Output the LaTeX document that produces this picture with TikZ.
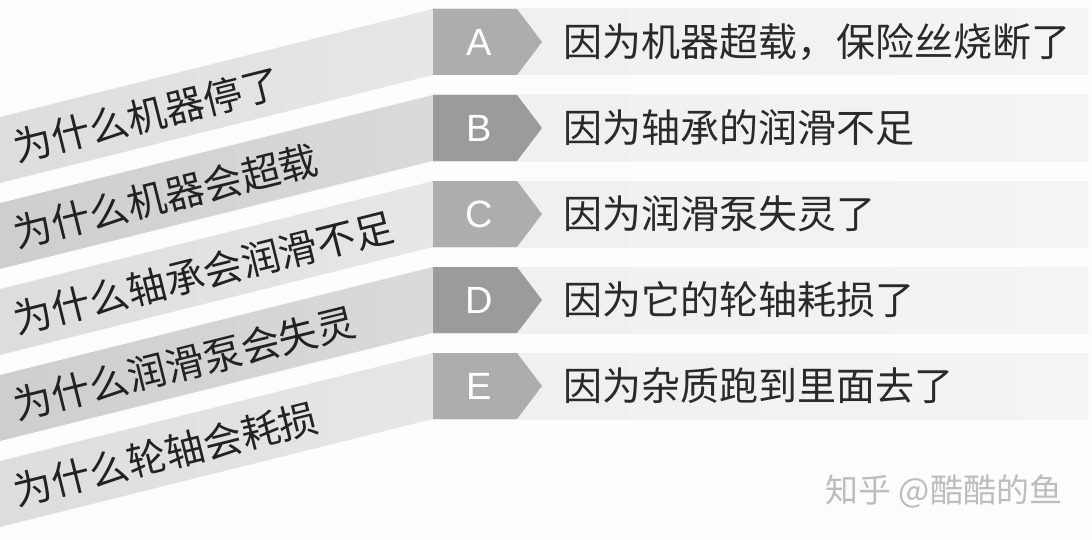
\documentclass[tikz,border=0pt]{standalone}
\usepackage{fontspec}
\newfontfamily\cjk{Noto Sans CJK SC}
\newfontfamily\latf{Liberation Sans}
\definecolor{bgc}{HTML}{FDFDFD}
\definecolor{barL}{HTML}{EFEFEF}
\definecolor{barR}{HTML}{F4F4F4}
\definecolor{boxL}{HTML}{ADADAD}
\definecolor{boxD}{HTML}{9B9B9B}
\definecolor{bandLl}{HTML}{DDDDDD}
\definecolor{bandLr}{HTML}{E7E7E7}
\definecolor{bandDl}{HTML}{CECECE}
\definecolor{bandDr}{HTML}{DADADA}
\definecolor{qcol}{HTML}{222222}
\definecolor{acol}{HTML}{2A2A2A}
\definecolor{wm}{HTML}{BDBDBD}
\begin{document}
\begin{tikzpicture}[x=0.5pt,y=-0.5pt,
  qtext/.style={font=\cjk\fontsize{19.5}{22}\selectfont, text=qcol, rotate=14, anchor=west, inner sep=0pt},
  atext/.style={font=\cjk\fontsize{19.5}{22}\selectfont, text=acol, anchor=west, inner sep=0pt},
  ltr/.style={font=\latf\fontsize{19}{22}\selectfont, text=white, inner sep=0pt},
  wmark/.style={font=\cjk\fontsize{16.5}{20}\selectfont, text=wm, inner sep=0pt}]
\useasboundingbox (0,0) rectangle (1092,540);
\fill[bgc] (0,0) rectangle (1092,540);
\foreach \i/\Q/\A/\L/\bx/\bl/\br in {
  0/{为什么机器停了}/{因为机器超载，保险丝烧断了}/A/boxL/bandLl/bandLr,
  1/{为什么机器会超载}/{因为轴承的润滑不足}/B/boxD/bandDl/bandDr,
  2/{为什么轴承会润滑不足}/{因为润滑泵失灵了}/C/boxL/bandLl/bandLr,
  3/{为什么润滑泵会失灵}/{因为它的轮轴耗损了}/D/boxD/bandDl/bandDr,
  4/{为什么轮轴会耗损}/{因为杂质跑到里面去了}/E/boxL/bandLl/bandLr}
{
  \pgfmathsetmacro\t{9+86*\i}
  \shade[left color=\bl, right color=\br] (0,\t+108) -- (433,\t) -- (433,\t+66) -- (0,\t+174) -- cycle;
  \shade[left color=barL, right color=barR] (433,\t) rectangle (1088,\t+66);
  \fill[\bx] (433,\t) -- (517,\t) -- (542,\t+33) -- (517,\t+66) -- (433,\t+66) -- cycle;
  \node[ltr] (L\L) at (479,\t+33) {\L};
  \node[atext] (ans\L) at (563,\t+33) {\A};
  \node[qtext] (q\L) at (14,\t+139) {\Q};
}
\node[wmark, anchor=west] (wmk) at (825,491) {知乎 @酷酷的鱼};
\end{tikzpicture}
\end{document}
